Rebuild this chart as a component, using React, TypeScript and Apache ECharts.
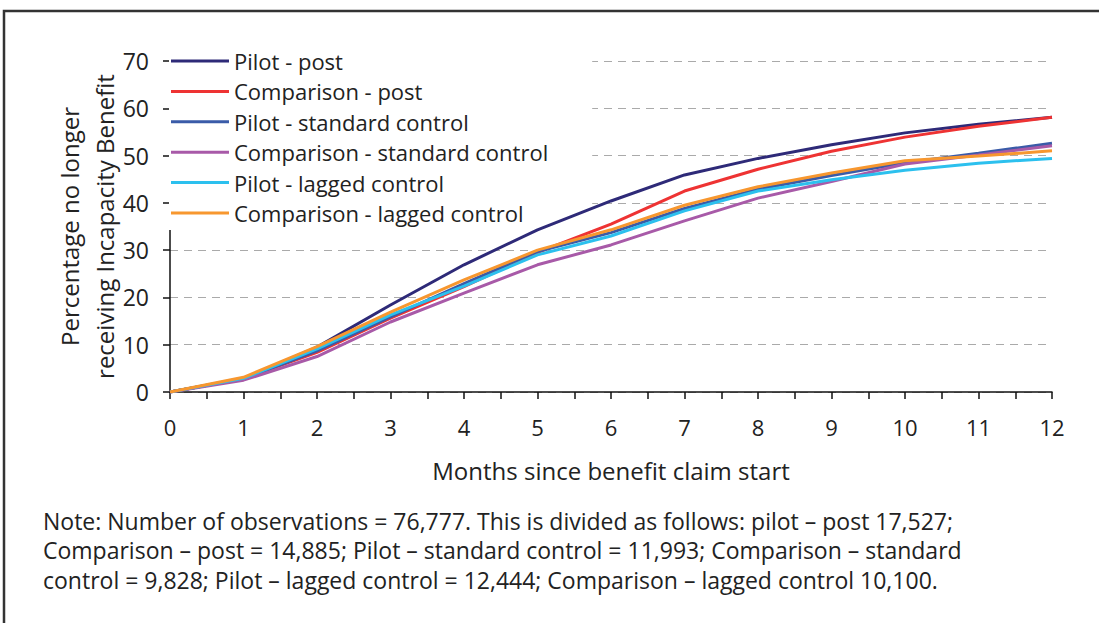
import React, { useEffect, useRef } from "react";
import * as echarts from "echarts";

const months = [0, 1, 2, 3, 4, 5, 6, 7, 8, 9, 10, 11, 12];
const pilotPost = [0, 2.8, 9.5, 18.4, 26.9, 34.3, 40.4, 45.9, 49.4, 52.3, 54.8, 56.6, 58.1];
const comparisonPost = [0, 2.8, 8.4, 15.6, 22.3, 29.5, 35.5, 42.5, 47.1, 50.9, 53.9, 56.2, 58.1];
const pilotStandard = [0, 2.8, 8.7, 15.9, 22.9, 29.7, 33.7, 38.8, 42.9, 45.8, 48.5, 50.5, 52.6];
const comparisonStandard = [0, 2.5, 7.5, 14.8, 20.9, 26.9, 31.1, 36.2, 41.0, 44.5, 48.2, 50.1, 52.1];
const pilotLagged = [0, 2.9, 9.1, 16.3, 22.4, 29.0, 33.0, 38.3, 42.5, 44.9, 46.9, 48.4, 49.4];
const comparisonLagged = [0, 3.1, 9.6, 16.9, 23.7, 30.0, 34.3, 39.5, 43.4, 46.3, 48.9, 49.9, 51.0];

const seriesNames = [
  "Pilot - post",
  "Comparison - post",
  "Pilot - standard control",
  "Comparison - standard control",
  "Pilot - lagged control",
  "Comparison - lagged control",
];
const seriesData = [pilotPost, comparisonPost, pilotStandard, comparisonStandard, pilotLagged, comparisonLagged];
const seriesColors = ["#2E2A78", "#EE3333", "#3A5BA8", "#A85AA8", "#2CC0EE", "#F7972F"];

const yTicks = [0, 10, 20, 30, 40, 50, 60, 70];
const noteText =
  "Note: Number of observations = 76,777. This is divided as follows: pilot \u2013 post 17,527;\n" +
  "Comparison \u2013 post = 14,885; Pilot \u2013 standard control = 11,993; Comparison \u2013 standard\n" +
  "control = 9,828; Pilot \u2013 lagged control = 12,444; Comparison \u2013 lagged control 10,100.";

const FONT = "Open Sans";

export default function App() {
  const ref = useRef<HTMLDivElement>(null);
  useEffect(() => {
    if (!ref.current) return;
    const chart = echarts.init(ref.current, undefined, { renderer: "svg" });
    chart.setOption({
      animation: false,
      backgroundColor: "#ffffff",
      textStyle: { fontFamily: FONT, color: "#222" },
      grid: { left: 170, right: 47, top: 61, bottom: 231, containLabel: false },
      legend: {
        orient: "vertical",
        left: 169,
        top: 49,
        data: seriesNames,
        icon: "rect",
        itemWidth: 58,
        itemHeight: 3,
        itemGap: 8.4,
        padding: [1, 44, 6, 2],
        backgroundColor: "#ffffff",
        textStyle: { fontFamily: FONT, fontSize: 22, color: "#222", lineHeight: 22 },
        z: 1,
      },
      xAxis: {
        type: "value",
        min: 0,
        max: 12,
        interval: 0.5,
        name: "Months since benefit claim start",
        nameLocation: "middle",
        nameGap: 66,
        nameMoveOverlap: false,
        nameTextStyle: { fontFamily: FONT, fontSize: 24, color: "#222" },
        axisLine: { show: true, lineStyle: { color: "#111", width: 1.5 } },
        axisTick: { show: true, length: 7, lineStyle: { color: "#111", width: 1.5 } },
        axisLabel: {
          fontFamily: FONT,
          fontSize: 22,
          color: "#222",
          margin: 24,
          formatter: (v: number) => (Number.isInteger(v) ? String(v) : ""),
        },
        splitLine: { show: false },
      },
      yAxis: {
        type: "value",
        min: yTicks[0],
        max: yTicks[yTicks.length - 1],
        interval: 10,
        name: "Percentage no longer\nreceiving Incapacity Benefit",
        nameLocation: "middle",
        nameRotate: 90,
        nameGap: 48,
        nameMoveOverlap: false,
        nameTextStyle: { fontFamily: FONT, fontSize: 24, color: "#222", lineHeight: 35 },
        axisLine: { show: true, lineStyle: { color: "#111", width: 1.5 } },
        axisTick: { show: true, length: 7, lineStyle: { color: "#111", width: 1.5 } },
        axisLabel: { fontFamily: FONT, fontSize: 23, color: "#222", margin: 21 },
        splitLine: { show: true, lineStyle: { color: "#aaa", type: [8, 6], width: 1 } },
      },
      series: seriesNames.map((name, i) => ({
        name,
        type: "line",
        data: months.map((m, j) => [m, seriesData[i][j]]),
        showSymbol: false,
        symbol: "none",
        lineStyle: { color: seriesColors[i], width: 3 },
        itemStyle: { color: seriesColors[i] },
        z: 2 + i,
      })),
      graphic: [
        {
          type: "rect",
          shape: { x: 4, y: 11, width: 1200, height: 800 },
          style: { fill: "none", stroke: "#333", lineWidth: 2.5 },
          silent: true,
        },
        {
          type: "text",
          left: 43,
          top: 506,
          style: {
            text: noteText,
            fontFamily: FONT,
            fontSize: 23,
            lineHeight: 29.5,
            fill: "#222",
          },
        },
      ],
    });
    return () => chart.dispose();
  }, []);
  return <div ref={ref} style={{ width: 1099, height: 623, position: "absolute", left: 0, top: 0 }} />;
}
